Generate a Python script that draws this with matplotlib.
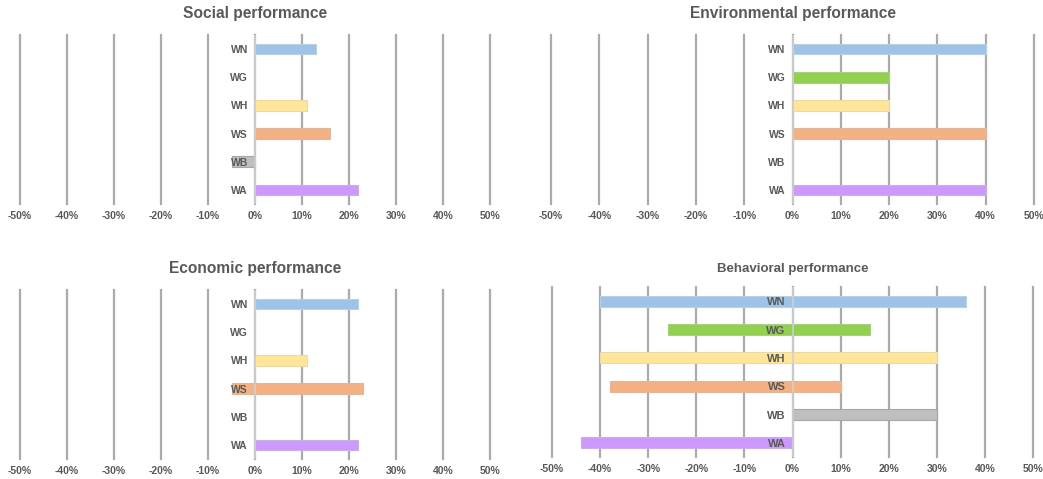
import matplotlib
matplotlib.use("Agg")
import matplotlib.pyplot as plt
from matplotlib.transforms import offset_copy
from matplotlib.ticker import FuncFormatter

plt.rcParams['font.family'] = ['Liberation Sans', 'DejaVu Sans']

categories = ["WN", "WG", "WH", "WS", "WB", "WA"]
colors = ["#9DC3E6", "#92D050", "#FFE699", "#F4B183", "#BFBFBF", "#CC99FF"]
edge_colors = ["#b9cfe3", "#a9cf80", "#e8d9a6", "#e0b899", "#a6a6a6", "#c8b0e0"]

# (start, end) of each range in percent; None where there is no bar
social_start = [0, None, 0, 0, -5, 0]
social_end = [13, None, 11, 16, 0, 22]

environmental_start = [0, 0, 0, 0, None, 0]
environmental_end = [40, 20, 20, 40, None, 40]

economic_start = [0, None, 0, -5, None, 0]
economic_end = [22, None, 11, 23, None, 22]

behavioral_start = [-40, -26, -40, -38, 0, -44]
behavioral_end = [36, 16, 30, 10, 30, 0]

x_ticks = [-50, -40, -30, -20, -10, 0, 10, 20, 30, 40, 50]

panels = [
    ("Social performance", social_start, social_end, [0.0192, 0.5741, 0.4506, 0.3528], 11.2, 12, 7.5),
    ("Environmental performance", environmental_start, environmental_end, [0.5283, 0.5741, 0.4631, 0.3528], 11.2, 12, 7.5),
    ("Economic performance", economic_start, economic_end, [0.0192, 0.0418, 0.4506, 0.3528], 11.2, 12, 7.5),
    ("Behavioral performance", behavioral_start, behavioral_end, [0.5293, 0.0459, 0.4612, 0.3549], 9.5, 11, 8.0),
]

text_color = "#595959"
grid_color = "#ababab"

fig = plt.figure(figsize=(10.43, 4.79), dpi=100)

for title, starts, ends, rect, tsize, tpad, csize in panels:
    ax = fig.add_axes(rect)
    for xt in x_ticks:
        ax.axvline(xt, color=grid_color, lw=1.6, zorder=0, clip_on=False)
    for i, (s, e) in enumerate(zip(starts, ends)):
        if s is None:
            continue
        ax.barh(i, e - s, left=s, height=0.38, color=colors[i],
                edgecolor=edge_colors[i], linewidth=0.8, zorder=2)
    # value axis line at 0 sits on top of the bars
    ax.axvline(0, color="#d0d0d0", lw=1.2, zorder=3)
    lab_tr = offset_copy(ax.transData, fig=fig, x=-7, y=0, units='dots')
    for i, name in enumerate(categories):
        ax.text(0, i, name, transform=lab_tr, ha='right', va='center_baseline',
                fontsize=csize, fontweight='bold', color=text_color, zorder=4)
    ax.set_xlim(-50, 50)
    ax.set_ylim(5.5, -0.5)
    ax.set_xticks(x_ticks)
    ax.xaxis.set_major_formatter(FuncFormatter(lambda v, p: f"{int(round(v))}%"))
    ax.tick_params(axis='x', length=0, pad=5, labelsize=7.5, labelcolor=text_color)
    for lbl in ax.get_xticklabels():
        lbl.set_fontweight('bold')
    ax.set_yticks([])
    for sp in ax.spines.values():
        sp.set_visible(False)
    ax.set_title(title, fontsize=tsize, fontweight='bold', color=text_color, pad=tpad)

fig.savefig("out.png", dpi=100)
